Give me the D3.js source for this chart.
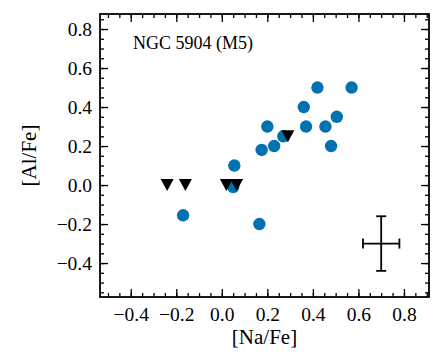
<!DOCTYPE html>
<html>
<head>
<meta charset="utf-8">
<script src="https://cdn.jsdelivr.net/npm/d3@7"></script>
<style>
  html, body { margin: 0; padding: 0; background: #fff; }
  svg { display: block; }
</style>
</head>
<body>
<svg id="chart" width="437" height="363" style="font-family:'Liberation Serif'"></svg>
<script>
// Detections
const naDet = [0.42, 0.57, 0.36, 0.505, 0.20, 0.37, 0.455, 0.27, 0.23, 0.48, 0.175, 0.055, 0.05, -0.17, 0.165];
const alDet = [0.50, 0.50, 0.40, 0.35, 0.30, 0.30, 0.30, 0.25, 0.20, 0.20, 0.18, 0.10, -0.01, -0.155, -0.20];
// Upper limits
const naLim = [-0.24, -0.16, 0.02, 0.065, 0.29];
const alLim = [0.0, 0.0, 0.0, 0.0, 0.25];
// Typical error bar
const errCenter = [0.70, -0.30];
const errNa = 0.08;
const errAl = 0.14;
// Ticks
const xMajor = [-0.4, -0.2, 0.0, 0.2, 0.4, 0.6, 0.8];
const yMajor = [-0.4, -0.2, 0.0, 0.2, 0.4, 0.6, 0.8];
const xMinor = d3.range(-50, 91, 5).map(v => v / 100);
const yMinor = d3.range(-55, 86, 5).map(v => v / 100);
const title = "NGC 5904 (M5)";
const xLabel = "[Na/Fe]";
const yLabel = "[Al/Fe]";

const FONT = "'Liberation Serif'";
const L = 100, T = 14, R = 429, B = 297;
const x = d3.scaleLinear().domain([-0.535, 0.91]).range([L, R]);
const y = d3.scaleLinear().domain([-0.574, 0.877]).range([B, T]);

const svg = d3.select("#chart");
const fmt = d3.format(".1f");
const majorLen = 8, minorLen = 4;

function styleAxis(g) {
  g.attr("font-family", null).attr("font-size", null);
  g.select(".domain").remove();
  g.selectAll(".tick line").attr("stroke", "#000").attr("stroke-width", 1.3);
}
function styleLabels(sel) {
  sel.attr("fill", "#000")
    .style("font-family", FONT).style("font-size", "19.5px");
}

// bottom
svg.append("g").attr("transform", `translate(0,${B})`)
  .call(d3.axisBottom(x).tickValues(xMinor).tickSize(-minorLen).tickFormat(""))
  .call(styleAxis);
const gxb = svg.append("g").attr("transform", `translate(0,${B})`)
  .call(d3.axisBottom(x).tickValues(xMajor).tickSize(-majorLen).tickFormat(fmt))
  .call(styleAxis);
gxb.selectAll(".tick text").attr("y", 24).attr("dy", 0).call(styleLabels);
// top
svg.append("g").attr("transform", `translate(0,${T})`)
  .call(d3.axisTop(x).tickValues(xMinor).tickSize(-minorLen).tickFormat(""))
  .call(styleAxis);
svg.append("g").attr("transform", `translate(0,${T})`)
  .call(d3.axisTop(x).tickValues(xMajor).tickSize(-majorLen).tickFormat(""))
  .call(styleAxis);
// left
svg.append("g").attr("transform", `translate(${L},0)`)
  .call(d3.axisLeft(y).tickValues(yMinor).tickSize(-minorLen).tickFormat(""))
  .call(styleAxis);
const gyl = svg.append("g").attr("transform", `translate(${L},0)`)
  .call(d3.axisLeft(y).tickValues(yMajor).tickSize(-majorLen).tickFormat(fmt))
  .call(styleAxis);
gyl.selectAll(".tick text").attr("x", -8).attr("dy", "0.34em").call(styleLabels);
// right
svg.append("g").attr("transform", `translate(${R},0)`)
  .call(d3.axisRight(y).tickValues(yMinor).tickSize(-minorLen).tickFormat(""))
  .call(styleAxis);
svg.append("g").attr("transform", `translate(${R},0)`)
  .call(d3.axisRight(y).tickValues(yMajor).tickSize(-majorLen).tickFormat(""))
  .call(styleAxis);

// frame
svg.append("rect").attr("x", L).attr("y", T).attr("width", R - L).attr("height", B - T)
  .attr("fill", "none").attr("stroke", "#000").attr("stroke-width", 1.8);

// detections
const det = naDet.map((v, i) => ({na: v, al: alDet[i]}));
svg.append("g").selectAll("circle").data(det).join("circle")
  .attr("cx", d => x(d.na)).attr("cy", d => y(d.al)).attr("r", 6.2)
  .attr("fill", "#0072B2");

// upper limits (downward triangles)
const lim = naLim.map((v, i) => ({na: v, al: alLim[i]}));
svg.append("g").selectAll("path").data(lim).join("path")
  .attr("d", "M0,6 L-6.5,-6 L6.5,-6 Z")
  .attr("transform", d => `translate(${x(d.na)},${y(d.al)})`)
  .attr("fill", "#000");

// error bar
const eg = svg.append("g").attr("stroke", "#000").attr("stroke-width", 1.8);
const cx = x(errCenter[0]), cy = y(errCenter[1]);
const capH = 5;
eg.append("line").attr("x1", x(errCenter[0] - errNa)).attr("x2", x(errCenter[0] + errNa)).attr("y1", cy).attr("y2", cy);
eg.append("line").attr("x1", cx).attr("x2", cx).attr("y1", y(errCenter[1] - errAl)).attr("y2", y(errCenter[1] + errAl));
[errCenter[0] - errNa, errCenter[0] + errNa].forEach(v => {
  eg.append("line").attr("x1", x(v)).attr("x2", x(v)).attr("y1", cy - capH).attr("y2", cy + capH);
});
[errCenter[1] - errAl, errCenter[1] + errAl].forEach(v => {
  eg.append("line").attr("x1", cx - capH).attr("x2", cx + capH).attr("y1", y(v)).attr("y2", y(v));
});

// title
svg.append("text").attr("x", 133).attr("y", 49)
  .style("font-family", FONT).style("font-size", "18px").attr("fill", "#000").text(title);

// axis labels
svg.append("text").attr("x", (L + R) / 2).attr("y", 344).attr("text-anchor", "middle")
  .style("font-family", FONT).style("font-size", "21px").attr("fill", "#000").text(xLabel);
svg.append("text").attr("transform", `translate(36,${(T + B) / 2}) rotate(-90)`)
  .attr("text-anchor", "middle")
  .style("font-family", FONT).style("font-size", "21px").attr("fill", "#000").text(yLabel);
</script>
</body>
</html>
